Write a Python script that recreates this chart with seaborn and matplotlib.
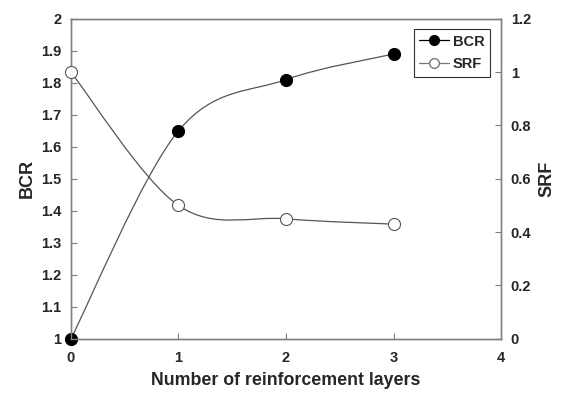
import numpy as np
import pandas as pd
import seaborn as sns
import matplotlib.pyplot as plt
from matplotlib.path import Path
from matplotlib.patches import PathPatch
from matplotlib.lines import Line2D

layers = [0, 1, 2, 3]
bcr = [1.0, 1.65, 1.81, 1.89]
srf = [1.0, 0.50, 0.45, 0.43]

sns.set_style("ticks")
plt.rcParams['font.family'] = ['Liberation Sans', 'DejaVu Sans']
plt.rcParams['font.weight'] = 'bold'


def smooth_path(xs, ys):
    # excel-like smoothed line: bezier segments through the points
    pts = np.column_stack([xs, ys]).astype(float)
    n = len(pts)
    verts = [pts[0]]
    codes = [Path.MOVETO]
    for i in range(n - 1):
        p0 = pts[i - 1] if i > 0 else pts[i]
        p1 = pts[i]
        p2 = pts[i + 1]
        p3 = pts[i + 2] if i + 2 < n else pts[i + 1]
        c1 = p1 + (p2 - p0) / 6
        c2 = p2 - (p3 - p1) / 6
        verts += [c1, c2, p2]
        codes += [Path.CURVE4] * 3
    return Path(verts, codes)


df = pd.DataFrame({"layers": layers, "BCR": bcr, "SRF": srf})

fig = plt.figure(figsize=(5.63, 4.0), dpi=100)
ax = fig.add_axes([0.126, 0.153, 0.764, 0.8])
ax2 = ax.twinx()

line_col = "#555555"
ax.add_patch(PathPatch(smooth_path(df["layers"], df["BCR"]), fill=False,
                       edgecolor=line_col, lw=0.9, zorder=2))
ax2.add_patch(PathPatch(smooth_path(df["layers"], df["SRF"]), fill=False,
                        edgecolor=line_col, lw=0.9, zorder=2))

sns.scatterplot(data=df, x="layers", y="BCR", ax=ax, color="black", s=75,
                edgecolor="black", linewidth=0.8, zorder=3, clip_on=False)
sns.scatterplot(data=df, x="layers", y="SRF", ax=ax2, facecolor="white", s=75,
                edgecolor="#555555", linewidth=0.8, zorder=3, clip_on=False)

ax.set_xlim(0, 4)
ax.set_ylim(1, 2)
ax2.set_ylim(0, 1.2)
ax.set_xticks([0, 1, 2, 3, 4])
ax.set_yticks(np.arange(1, 2.01, 0.1))
ax.set_yticklabels(["1", "1.1", "1.2", "1.3", "1.4", "1.5", "1.6", "1.7", "1.8", "1.9", "2"])
ax2.set_yticks([0, 0.2, 0.4, 0.6, 0.8, 1.0, 1.2])
ax2.set_yticklabels(["0", "0.2", "0.4", "0.6", "0.8", "1", "1.2"])

for a in (ax, ax2):
    for sp in a.spines.values():
        sp.set_color("#808080")
        sp.set_linewidth(1.0)
    a.tick_params(direction="in", length=4, width=0.8, color="#808080",
                  labelsize=10.5, pad=7)
ax.tick_params(axis="x", pad=9)

ax.set_xlabel("Number of reinforcement layers", fontsize=12.8, fontweight="bold", labelpad=5)
ax.set_ylabel("BCR", fontsize=13, fontweight="bold", labelpad=4)
ax2.set_ylabel("SRF", fontsize=13, fontweight="bold", labelpad=5)

handles = [
    Line2D([], [], color="black", lw=0.9, marker="o", markersize=7,
           markerfacecolor="black", markeredgecolor="black"),
    Line2D([], [], color="#777777", lw=0.9, marker="o", markersize=7,
           markerfacecolor="white", markeredgecolor="#777777"),
]
leg = ax2.legend(handles, ["BCR", "SRF"], loc="upper right", bbox_to_anchor=(0.982, 0.978),
                 frameon=True, fancybox=False, fontsize=10.5, handlelength=2.0,
                 borderpad=0.4, labelspacing=0.6, handletextpad=0.3, borderaxespad=0.2)
leg.get_frame().set_edgecolor("black")
leg.get_frame().set_linewidth(0.8)

fig.savefig("out.png", dpi=100)
